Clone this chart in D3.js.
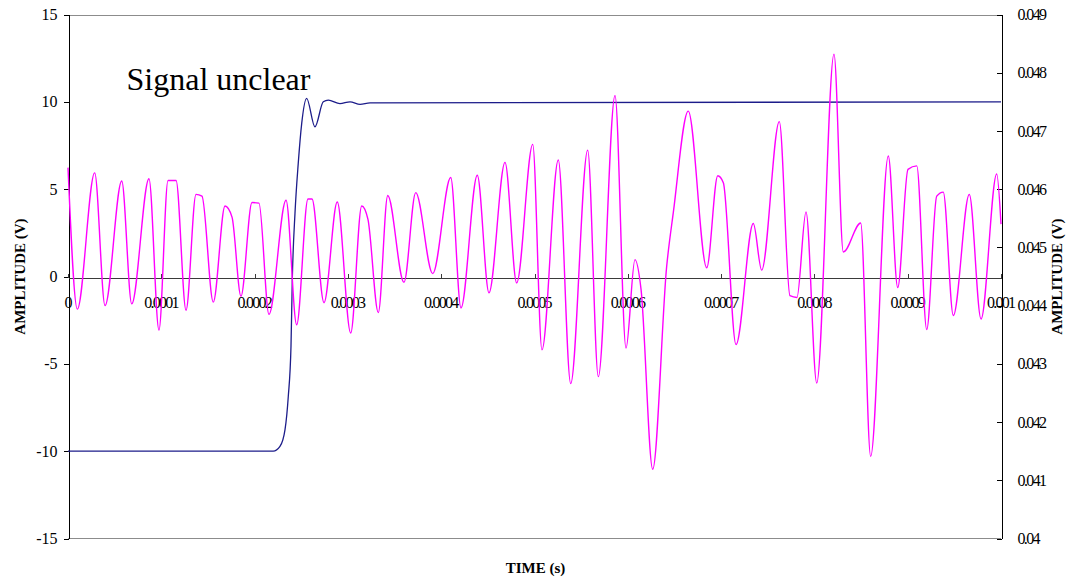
<!DOCTYPE html>
<html>
<head>
<meta charset="utf-8">
<script src="https://cdn.jsdelivr.net/npm/d3@7"></script>
<style>
  html, body { margin: 0; padding: 0; background: #fff; }
  svg { display: block; }
  text { font-family: "Liberation Serif", "Times New Roman", serif; fill: #000; }
</style>
</head>
<body>
<svg id="chart" width="1072" height="582"></svg>
<script>
// ---- Data (time in seconds) ----
const stepTime = [0, 0.0002200, 0.0002272, 0.0002326, 0.0002361, 0.0002390, 0.0002404, 0.0002433, 0.0002468,
  0.0002505, 0.0002558, 0.0002647, 0.0002736, 0.0002790, 0.0002915, 0.0003023, 0.0003130, 0.0003237, 0.001];
const stepVolts = [-10, -10, -9.73, -8.77, -6.87, -4.01, -0.2, 3.63, 6.49,
  8.77, 10.2, 8.57, 10.0, 10.1, 9.9, 10.0, 9.86, 9.94, 10.0];

const noiseTime = [0, 10.0, 28.6, 39.7, 57.6, 68.3, 86.8, 97.5, 107.2, 115.8, 126.5, 137.2, 143.6, 155.7,
  168.3, 175.8, 185.4, 197.2, 204.7, 215.4, 233.7, 245.1, 257.2, 261.5, 274.4, 288.6, 303.0, 314.8, 321.5,
  332.6, 342.7, 360.1, 372.7, 390.9, 410.2, 421.2, 438.7, 451.2, 468.4, 480.9, 498.1, 508.0, 525.5, 538.8,
  557.0, 568.4, 586.3, 598.1, 607.7, 614.2, 626.7, 641.7, 648.8, 664.8, 684.6, 696.4, 702.4, 716.0, 734.5,
  743.5, 762.4, 773.8, 781.3, 791.0, 802.5, 821.0, 831.0, 849.6, 860.3, 879.2, 889.3, 900.3, 909.7, 920.4,
  931.1, 938.1, 948.9, 966.0, 978.6, 995.4, 1000].map(us => us * 1e-6);
const noiseVolts = [0.04637, 0.04394, 0.04628, 0.04400, 0.04614, 0.04403, 0.04618, 0.04358, 0.04615, 0.04615,
  0.04392, 0.04591, 0.04588, 0.04406, 0.04571, 0.04552, 0.04416, 0.04577, 0.04576, 0.04385, 0.04581, 0.04367,
  0.04583, 0.04583, 0.04405, 0.04578, 0.04353, 0.04571, 0.04548, 0.04388, 0.04589, 0.04440, 0.04594, 0.04455,
  0.04620, 0.04396, 0.04624, 0.04422, 0.04646, 0.04439, 0.04677, 0.04324, 0.04650, 0.04266, 0.04667, 0.04278,
  0.04761, 0.04327, 0.04479, 0.04428, 0.04119, 0.04468, 0.04560, 0.04734, 0.04465, 0.04623, 0.04611, 0.04333,
  0.04541, 0.04461, 0.04716, 0.04417, 0.04414, 0.04561, 0.04267, 0.04832, 0.04492, 0.04542, 0.04141, 0.04657,
  0.04431, 0.04634, 0.04640, 0.04359, 0.04588, 0.04595, 0.04383, 0.04591, 0.04377, 0.04626, 0.04540];

const xTicks = [0, 0.0001, 0.0002, 0.0003, 0.0004, 0.0005, 0.0006, 0.0007, 0.0008, 0.0009, 0.001];
const xTickLabels = ["0", "0.0001", "0.0002", "0.0003", "0.0004", "0.0005", "0.0006", "0.0007", "0.0008", "0.0009", "0.001"];
const leftTicks = [-15, -10, -5, 0, 5, 10, 15];
const leftTickLabels = ["-15", "-10", "-5", "0", "5", "10", "15"];
const rightTicks = [0.04, 0.041, 0.042, 0.043, 0.044, 0.045, 0.046, 0.047, 0.048, 0.049];
const rightTickLabels = ["0.04", "0.041", "0.042", "0.043", "0.044", "0.045", "0.046", "0.047", "0.048", "0.049"];

const xTitle = "TIME (s)";
const yTitle = "AMPLITUDE (V)";
const annotation = "Signal unclear";

// ---- Layout ----
const L = 68, R = 1001, T = 14.5, B = 538.5;
const svg = d3.select("#chart");

const x = d3.scaleLinear().domain([0, 0.001]).range([L, R]);
const yL = d3.scaleLinear().domain([-15, 15]).range([B, T]);
const yR = d3.scaleLinear().domain([0.04, 0.049]).range([B, T]);

// frame top & bottom
svg.append("line").attr("x1", L).attr("x2", R).attr("y1", Math.round(T) + 0.5).attr("y2", Math.round(T) + 0.5)
  .attr("stroke", "#8c8c8c").attr("stroke-width", 1);
svg.append("line").attr("x1", L).attr("x2", R).attr("y1", Math.round(B) - 0.5).attr("y2", Math.round(B) - 0.5)
  .attr("stroke", "#8c8c8c").attr("stroke-width", 1);

function compress(sel, ratio) {
  sel.each(function () {
    const w = this.getComputedTextLength();
    if (this.textContent.length > 1) d3.select(this).attr("textLength", w * ratio).attr("lengthAdjust", "spacing");
  });
}

// left axis
const gL = svg.append("g").attr("transform", `translate(${L + 0.5},0)`)
  .call(d3.axisLeft(yL).tickValues(leftTicks).tickFormat((d, i) => leftTickLabels[i])
    .tickSizeInner(5).tickSizeOuter(0).tickPadding(6));
gL.selectAll("text").style("font-size", "16px").attr("fill", "#000");
gL.selectAll("line, path").attr("stroke", "#000").attr("shape-rendering", "crispEdges");

// right axis
const gR = svg.append("g").attr("transform", `translate(${R + 0.5},0)`)
  .call(d3.axisRight(yR).tickValues(rightTicks).tickFormat((d, i) => rightTickLabels[i])
    .tickSizeInner(-5).tickSizeOuter(0).tickPadding(16));
gR.selectAll("text").style("font-size", "16px").attr("fill", "#000");
compress(gR.selectAll("text"), 0.82);
gR.selectAll("line, path").attr("stroke", "#000").attr("shape-rendering", "crispEdges");

// x axis at zero
const gX = svg.append("g").attr("transform", `translate(0,${Math.round(yL(0)) + 0.5})`)
  .call(d3.axisBottom(x).tickValues(xTicks).tickFormat((d, i) => xTickLabels[i])
    .tickSizeInner(-4).tickSizeOuter(0).tickPadding(19));
gX.selectAll("text").style("font-size", "16px").attr("fill", "#000");
compress(gX.selectAll("text"), 0.8);
gX.selectAll("line, path").attr("stroke", "#3a3a3a").attr("shape-rendering", "crispEdges");

// series
const stepLine = d3.line().x((d, i) => x(stepTime[i])).y((d, i) => yL(stepVolts[i])).curve(d3.curveMonotoneX);
svg.append("path").attr("d", stepLine(stepTime)).attr("fill", "none")
  .attr("stroke", "#1c1c8a").attr("stroke-width", 1.3);

const noiseLine = d3.line().x((d, i) => x(noiseTime[i])).y((d, i) => yR(noiseVolts[i])).curve(d3.curveMonotoneX);
svg.append("path").attr("d", noiseLine(noiseTime)).attr("fill", "none")
  .attr("stroke", "#ff00ff").attr("stroke-width", 1.4);

// titles
svg.append("text").attr("x", (L + R) / 2 + 1).attr("y", 573).attr("text-anchor", "middle")
  .style("font-size", "15px").style("font-weight", "bold").text(xTitle);
svg.append("text").attr("transform", `translate(25,${(T + B) / 2}) rotate(-90)`).attr("text-anchor", "middle")
  .style("font-size", "15px").style("font-weight", "bold").text(yTitle);
svg.append("text").attr("transform", `translate(1062,${(T + B) / 2}) rotate(-90)`).attr("text-anchor", "middle")
  .style("font-size", "15px").style("font-weight", "bold").text(yTitle);

// annotation
svg.append("text").attr("x", 126.5).attr("y", 89.5).style("font-size", "32px").text(annotation);
</script>
</body>
</html>
